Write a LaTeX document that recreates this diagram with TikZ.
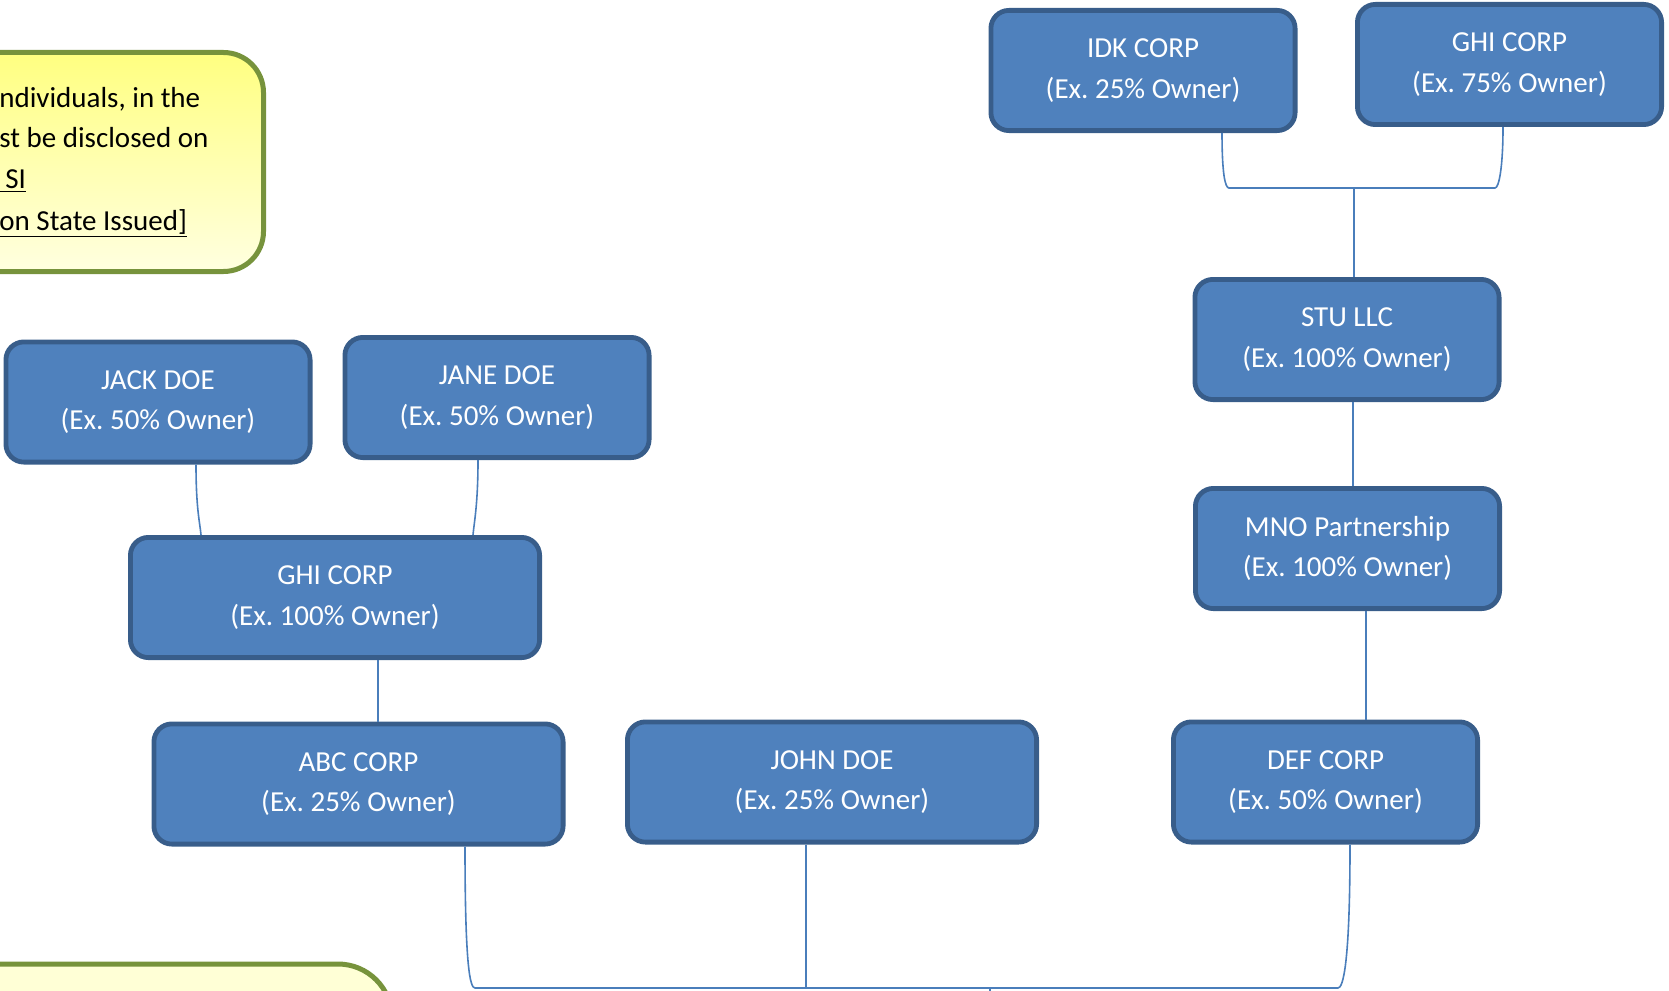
\documentclass[tikz,border=0pt]{standalone}
\usepackage{fontspec}
\setmainfont{Carlito}
\usepackage{xcolor}
\usetikzlibrary{calc}

\definecolor{boxblue}{HTML}{4F81BD}
\definecolor{boxedge}{HTML}{385D8A}
\definecolor{linkblue}{HTML}{4A7EBB}
\definecolor{noteedge}{HTML}{77933C}
\definecolor{notetop}{HTML}{FFFF80}
\definecolor{notebottom}{HTML}{FFFFE0}
\definecolor{notepale}{HTML}{FFFFD6}

\begin{document}
\begin{tikzpicture}[x=0.5pt, y=-0.5pt,
            entity/.style={shape=rectangle, rounded corners=9pt, draw=boxedge, line width=2.4pt, fill=boxblue,
              text=white, align=center, inner sep=0pt, minimum width=152.1pt, minimum height=60.1pt,
              font=\fontsize{14.5}{20.2}\selectfont},
            wide/.style={entity, minimum width=204.6pt},
            note/.style={draw=noteedge, line width=2.5pt},
            notetext/.style={anchor=base west, inner sep=0pt, font=\fontsize{14.5}{20.2}\selectfont},
            link/.style={draw=linkblue, line width=0.8pt}]
        \useasboundingbox (0,0) rectangle (1669,990);
        \clip (0,0) rectangle (1669,990);

        % notes
        \draw[note, rounded corners=20pt, top color=notetop, bottom color=notebottom] (-300,52.5) rectangle (263.5,271.5);
        \node[notetext] (noteone) at (-1,107) {ndividuals, in the};
        \node[notetext] (notetwo) at (-1,148) {st be disclosed on};
        \node[notetext] (notethree) at (-1,188) {\underline{\hspace{3pt}SI}};
        \node[notetext] (notefour) at (-1,230) {\underline{on State Issued]}};

        \draw[note, rounded corners=27pt, fill=notepale] (-300,964) rectangle (392,1300);

        % owners
        \node[entity] (idk) at (1143,70.5) {IDK CORP\\(Ex.\ 25\% Owner)};
        \node[entity] (ghitop) at (1509.5,64.5) {GHI CORP\\(Ex.\ 75\% Owner)};
        \node[entity] (stu) at (1347,339.5) {STU LLC\\(Ex.\ 100\% Owner)};
        \node[entity] (mno) at (1347.5,548.5) {MNO Partnership\\(Ex.\ 100\% Owner)};
        \node[entity] (def) at (1325.5,782) {DEF CORP\\(Ex.\ 50\% Owner)};
        \node[wide] (john) at (832,782) {JOHN DOE\\(Ex.\ 25\% Owner)};
        \node[wide] (abc) at (358.5,784) {ABC CORP\\(Ex.\ 25\% Owner)};
        \node[wide] (ghimid) at (335,597.5) {GHI CORP\\(Ex.\ 100\% Owner)};
        \node[entity] (jack) at (158,402) {JACK DOE\\(Ex.\ 50\% Owner)};
        \node[entity] (jane) at (497,397.5) {JANE DOE\\(Ex.\ 50\% Owner)};

        % connectors
        \coordinate (topjoin) at (1354,188);
        \coordinate (bus) at (990,988);
        \coordinate (johnfoot) at ($(john.south)+(-26,0)$);

        \draw[link] ($(idk.south)+(79,0)$) .. controls +(0,40) and +(-4,0) .. (1229,188) -- (1495,188)
              .. controls +(4,0) and +(0,40) .. ($(ghitop.south)+(-6.5,0)$);
        \draw[link] (topjoin) -- (topjoin |- stu.north);
        \draw[link] ($(stu.south)+(6,0)$) -- ($(mno.north)+(5.5,0)$);
        \draw[link] ($(mno.south)+(18.5,0)$) -- ($(def.north)+(40.5,0)$);

        \draw[link] ($(jack.south)+(38,0)$) .. controls +(0,45) and +(-1,-12) .. ($(ghimid.north)+(-134,0)$);
        \draw[link] ($(jane.south)+(-19,0)$) .. controls +(0,45) and +(1,-12) .. ($(ghimid.north)+(138,0)$);
        \draw[link] ($(ghimid.south)+(43,0)$) -- ($(abc.north)+(19.5,0)$);

        \draw[link] ($(abc.south)+(106.5,0)$) .. controls +(0,120) and +(-5,0) .. (475,988) -- (1338,988)
              .. controls +(5,0) and +(0,120) .. ($(def.south)+(24.5,0)$);
        \draw[link] (johnfoot) -- (johnfoot |- bus);
        \draw[link] (bus) -- ++(0,10);
\end{tikzpicture}
\end{document}
